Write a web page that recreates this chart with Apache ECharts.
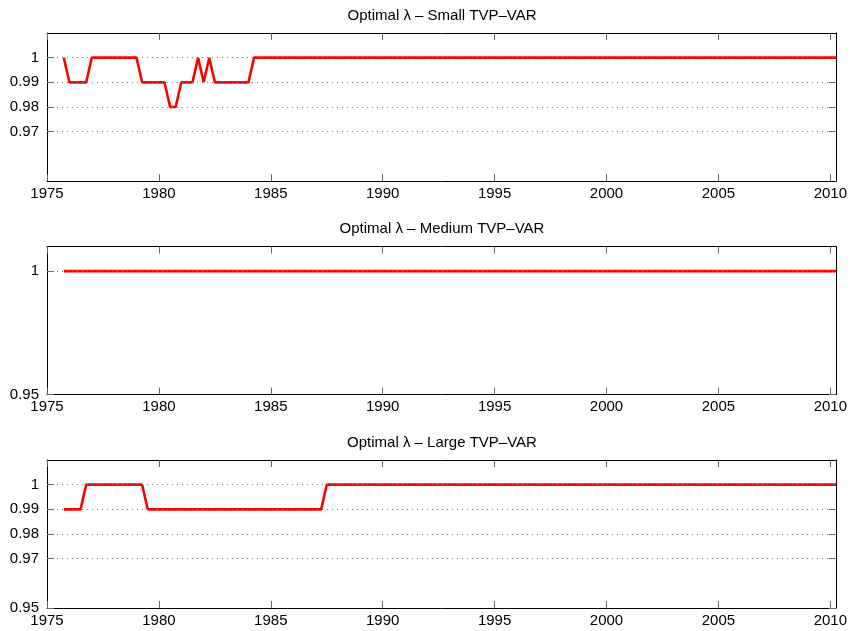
<!DOCTYPE html>
<html>
<head>
<meta charset="utf-8">
<script src="https://cdn.jsdelivr.net/npm/echarts@6/dist/echarts.min.js"></script>
<style>html,body{margin:0;padding:0;background:#fff;}#c{width:850px;height:631px;}</style>
</head>
<body>
<div id="c"></div>
<script>
// ---- Data (quarterly; points where the optimal lambda changes) ----
const titles = ['Optimal λ – Small TVP–VAR', 'Optimal λ – Medium TVP–VAR', 'Optimal λ – Large TVP–VAR'];
const smallYears = [1975.75, 1976.0, 1976.75, 1977.0, 1979.0, 1979.25, 1980.25, 1980.5, 1980.75, 1981.0, 1981.5, 1981.75, 1982.0, 1982.25, 1982.5, 1984.0, 1984.25, 2010.25];
const smallVals  = [1, 0.99, 0.99, 1, 1, 0.99, 0.99, 0.98, 0.98, 0.99, 0.99, 1, 0.99, 1, 0.99, 0.99, 1, 1];
const mediumYears = [1975.75, 2010.25];
const mediumVals  = [1, 1];
const largeYears = [1975.75, 1976.5, 1976.75, 1979.25, 1979.5, 1987.25, 1987.5, 2010.25];
const largeVals  = [0.99, 0.99, 1, 1, 0.99, 0.99, 1, 1];
const xTicks = [1975, 1980, 1985, 1990, 1995, 2000, 2005, 2010];
const yTicksSmall = [0.97, 0.98, 0.99, 1];
const yTicksMedium = [0.95, 1];
const yTicksLarge = [0.95, 0.97, 0.98, 0.99, 1];
const gridSmall = [0.97, 0.98, 0.99, 1];
const gridMedium = [1];
const gridLarge = [0.97, 0.98, 0.99, 1];

const panels = [
  {years: smallYears, vals: smallVals, yTicks: yTicksSmall, grid: gridSmall},
  {years: mediumYears, vals: mediumVals, yTicks: yTicksMedium, grid: gridMedium},
  {years: largeYears, vals: largeVals, yTicks: yTicksLarge, grid: gridLarge}
];
const tops = [33, 246.5, 460];
const H = 148;
const FONT = 'Liberation Sans, Arial, Helvetica, sans-serif';

const option = {
  animation: false,
  backgroundColor: '#fff',
  title: [], grid: [], xAxis: [], yAxis: [], series: []
};

panels.forEach((p, i) => {
  option.title.push({
    text: titles[i], left: 442, top: tops[i] - 25, textAlign: 'center', padding: 0,
    textStyle: {fontFamily: FONT, fontSize: 15, fontWeight: 'normal', color: '#000'}
  });
  option.grid.push({left: 47, right: 13, top: tops[i], height: H, containLabel: false});
  const axLine = {show: true, onZero: false, lineStyle: {color: '#000', width: 1}};
  const tick = (vals) => ({show: true, inside: true, length: 7, customValues: vals, lineStyle: {color: '#666', width: 1}});
  // bottom x
  option.xAxis.push({
    type: 'value', gridIndex: i, min: 1975, max: 2010.25, position: 'bottom',
    axisLine: axLine, axisTick: tick(xTicks), splitLine: {show: false},
    axisLabel: {show: true, customValues: xTicks, margin: 5, fontFamily: FONT, fontSize: 15, color: '#000', formatter: v => String(v)}
  });
  // top x (mirror)
  option.xAxis.push({
    type: 'value', gridIndex: i, min: 1975, max: 2010.25, position: 'top',
    axisLine: axLine, axisTick: tick(xTicks), splitLine: {show: false}, axisLabel: {show: false}
  });
  // left y
  option.yAxis.push({
    type: 'value', gridIndex: i, min: 0.95, max: 1.01, interval: 0.01, position: 'left',
    axisLine: axLine, axisTick: tick(p.yTicks), splitLine: {show: false},
    axisLabel: {show: true, customValues: p.yTicks, margin: 8, fontFamily: FONT, fontSize: 15, color: '#000',
      formatter: v => String(+(+v).toFixed(2))}
  });
  // right y (mirror)
  option.yAxis.push({
    type: 'value', gridIndex: i, min: 0.95, max: 1.01, interval: 0.01, position: 'right',
    axisLine: axLine, axisTick: tick(p.yTicks), splitLine: {show: false}, axisLabel: {show: false}
  });
  // dotted grid lines
  option.series.push({
    type: 'line', xAxisIndex: 2 * i, yAxisIndex: 2 * i, data: [], z: 1, silent: true,
    markLine: {
      silent: true, symbol: ['none', 'none'], label: {show: false}, animation: false,
      lineStyle: {color: '#777', width: 1, type: [1, 4]},
      emphasis: {disabled: true},
      data: p.grid.map(v => ({yAxis: v}))
    }
  });
  // main series
  option.series.push({
    type: 'line', xAxisIndex: 2 * i, yAxisIndex: 2 * i, z: 3,
    data: p.years.map((x, k) => [x, p.vals[k]]),
    showSymbol: false, symbol: 'none',
    lineStyle: {color: '#ff0000', width: 2.6},
    itemStyle: {color: '#ff0000'}
  });
});

const chart = echarts.init(document.getElementById('c'), null, {renderer: 'canvas'});
chart.setOption(option);
</script>
</body>
</html>
